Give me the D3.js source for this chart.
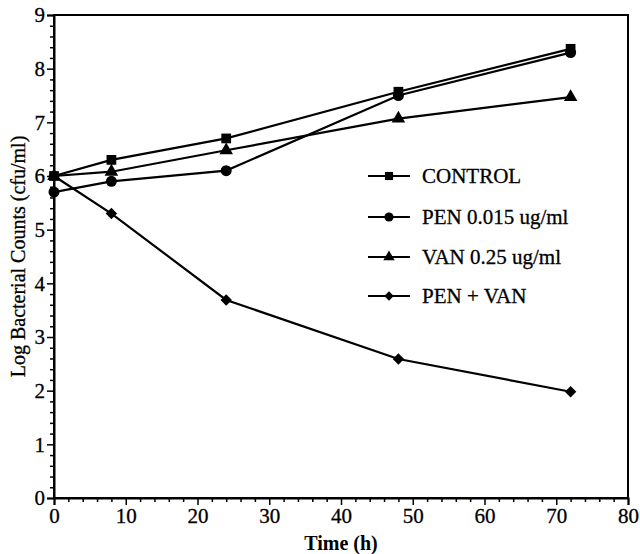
<!DOCTYPE html>
<html><head><meta charset="utf-8">
<script src="https://cdn.jsdelivr.net/npm/d3@7"></script>
<style>body{margin:0;background:#fff}svg{display:block}</style>
</head><body>
<script>
const times = [0, 8, 24, 48, 72];
const seriesNames = ["CONTROL", "PEN 0.015 ug/ml", "VAN 0.25 ug/ml", "PEN + VAN"];
const control = [6.0, 6.3, 6.7, 7.57, 8.37];
const pen = [5.7, 5.9, 6.1, 7.5, 8.3];
const van = [6.0, 6.08, 6.48, 7.07, 7.47];
const penVan = [6.0, 5.3, 3.69, 2.59, 1.98];
const xTicks = [0, 10, 20, 30, 40, 50, 60, 70, 80];
const yTicks = [0, 1, 2, 3, 4, 5, 6, 7, 8, 9];

const W = 640, H = 554;
const m = {l: 54, r: 12, t: 15, b: 56};
const svg = d3.select("body").append("svg").attr("width", W).attr("height", H);
const x = d3.scaleLinear().domain([0, 80]).range([m.l, W - m.r]);
const y = d3.scaleLinear().domain([0, 9]).range([H - m.b, m.t]);
const font = "'Liberation Serif','Times New Roman',serif";

// frame
svg.append("rect").attr("x", x(0)).attr("y", y(9)).attr("width", x(80) - x(0)).attr("height", y(0) - y(9))
  .attr("fill", "none").attr("stroke", "#000").attr("stroke-width", 2);

// x axis
svg.append("g").attr("transform", `translate(0,${y(0)})`)
  .call(d3.axisBottom(x).tickValues(xTicks).tickSize(7).tickPadding(3).tickFormat(d3.format("d")));
svg.append("g").attr("transform", `translate(0,${y(0)})`)
  .call(d3.axisBottom(x).tickValues(d3.range(0, 81, 2).filter(v => v % 10)).tickSize(4).tickFormat(""))
  .call(g => g.select(".domain").remove());
// y axis
svg.append("g").attr("transform", `translate(${x(0)},0)`)
  .call(d3.axisLeft(y).tickValues(yTicks).tickSize(7).tickPadding(2).tickFormat(d3.format("d")));
svg.append("g").attr("transform", `translate(${x(0)},0)`)
  .call(d3.axisLeft(y).tickValues(d3.range(0, 9.01, 0.2).filter(v => Math.abs(v - Math.round(v)) > 0.01)).tickSize(4).tickFormat(""))
  .call(g => g.select(".domain").remove());
svg.selectAll(".tick line").attr("stroke", "#000").attr("stroke-width", 1.5);
svg.selectAll(".domain").attr("stroke", "#000").attr("stroke-width", 2);
svg.selectAll(".tick text").attr("font-family", font).attr("font-size", 21).attr("fill", "#000")
  .attr("stroke", "#000").attr("stroke-width", 0.3);

// titles
svg.append("text").attr("x", (x(0) + x(80)) / 2).attr("y", 550).attr("text-anchor", "middle")
  .attr("font-family", font).attr("font-size", 20).attr("font-weight", "bold").text("Time (h)");
svg.append("text").attr("transform", `translate(25,${(y(0) + y(9)) / 2}) rotate(-90)`).attr("text-anchor", "middle")
  .attr("font-family", font).attr("font-size", 20).attr("stroke", "#000").attr("stroke-width", 0.3)
  .text("Log Bacterial Counts (cfu/ml)");

const allSeries = [control, pen, van, penVan];
const diamond = {draw(ctx, size) { const r = Math.sqrt(size / 2); ctx.moveTo(0, -r); ctx.lineTo(r, 0); ctx.lineTo(0, r); ctx.lineTo(-r, 0); ctx.closePath(); }};
const symbols = [d3.symbolSquare, d3.symbolCircle, d3.symbolTriangle, diamond];
const sizes = [95, 95, 80, 65];
const line = d3.line().x((d, i) => x(times[i])).y(d => y(d));

allSeries.forEach((s, k) => {
  svg.append("path").datum(s).attr("d", line).attr("fill", "none").attr("stroke", "#000").attr("stroke-width", 2.2);
});
allSeries.forEach((s, k) => {
  svg.append("g").selectAll("path").data(s).join("path")
    .attr("transform", (d, i) => `translate(${x(times[i])},${y(d)})`)
    .attr("d", d3.symbol().type(symbols[k]).size(sizes[k])).attr("fill", "#000");
});

// legend
const legY = [176, 217, 257, 296];
seriesNames.forEach((name, k) => {
  const g = svg.append("g").attr("transform", `translate(0,${legY[k]})`);
  g.append("line").attr("x1", 368).attr("x2", 410).attr("stroke", "#000").attr("stroke-width", 2);
  g.append("path").attr("transform", "translate(389,0)").attr("d", d3.symbol().type(symbols[k]).size(sizes[k] * 0.7)).attr("fill", "#000");
  g.append("text").attr("x", 422).attr("y", 7).attr("font-family", font).attr("font-size", 21)
    .attr("stroke", "#000").attr("stroke-width", 0.3).text(name);
});
</script>
</body></html>
